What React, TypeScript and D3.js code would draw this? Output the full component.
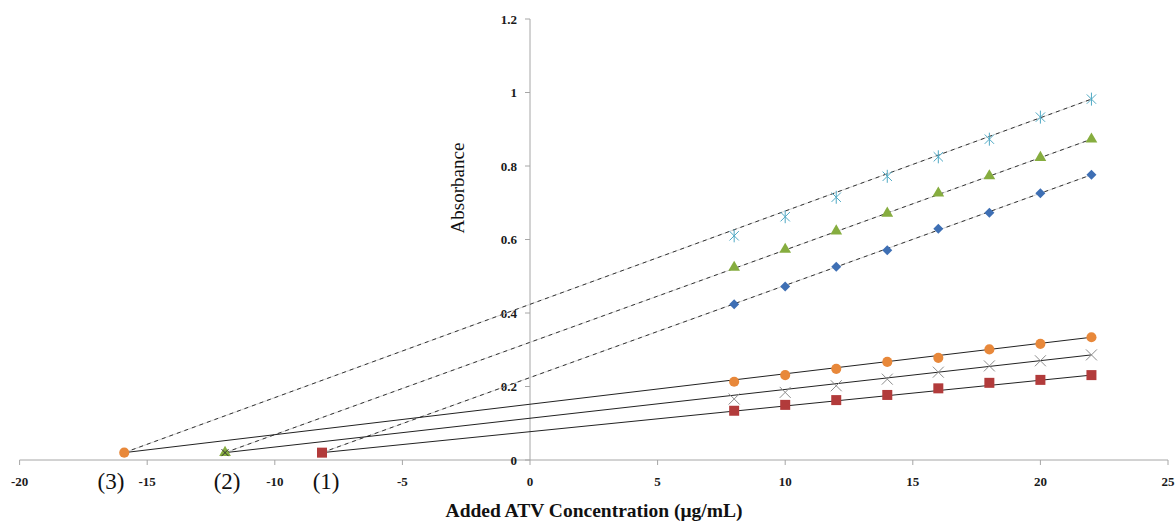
import React, { useRef, useEffect } from 'react';
import { select, scaleLinear, symbol, symbolCircle, symbolSquare, symbolTriangle, path as d3path } from 'd3';

const W = 1176;
const H = 521;

// added concentrations (µg/mL)
const concentrations = [8, 10, 12, 14, 16, 18, 20, 22];

// upper group (dashed fits)
const diamondVals = [0.424, 0.472, 0.526, 0.571, 0.629, 0.673, 0.726, 0.776];
const triangleVals = [0.524, 0.573, 0.623, 0.671, 0.726, 0.773, 0.823, 0.873];
const starVals = [0.61, 0.662, 0.715, 0.772, 0.825, 0.873, 0.933, 0.982];
// lower group (solid fits)
const circleVals = [0.213, 0.231, 0.248, 0.267, 0.278, 0.301, 0.316, 0.334];
const crossVals = [0.166, 0.184, 0.202, 0.22, 0.239, 0.256, 0.27, 0.286];
const squareVals = [0.134, 0.15, 0.163, 0.177, 0.195, 0.21, 0.218, 0.231];

// extrapolated x-intercepts (1), (2), (3)
const intercepts = [-8.15, -11.95, -15.9];
const interceptY = 0.02;
const interceptLabels = ['(1)', '(2)', '(3)'];
const interceptLabelX = [-7.99, -11.87, -16.42];

const xTicks = [-20, -15, -10, -5, 0, 5, 10, 15, 20, 25];
const yTicks = [0, 0.2, 0.4, 0.6, 0.8, 1, 1.2];

const starPath = (r: number) => {
  const p = d3path();
  const d = r * 0.72;
  p.moveTo(-d, -d); p.lineTo(d, d);
  p.moveTo(-d, d); p.lineTo(d, -d);
  p.moveTo(0, -r); p.lineTo(0, r);
  return p.toString();
};
const timesPath = (r: number) => {
  const p = d3path();
  p.moveTo(-r, -r); p.lineTo(r, r);
  p.moveTo(-r, r); p.lineTo(r, -r);
  return p.toString();
};

const App = () => {
  const svgRef = useRef<SVGSVGElement>(null);

  useEffect(() => {
    const svg = select(svgRef.current);
    svg.selectAll('*').remove();

    const x = scaleLinear().domain([-20, 25]).range([19.6, 1168]);
    const y = scaleLinear().domain([0, 1.2]).range([460, 19]);
    const axisColor = '#a6a6a6';
    const serif = '"Liberation Serif", "Times New Roman", serif';

    // axes
    const gAxis = svg.append('g');
    gAxis.append('line')
      .attr('x1', x(-20)).attr('x2', x(25)).attr('y1', y(0)).attr('y2', y(0))
      .attr('stroke', axisColor).attr('stroke-width', 1);
    gAxis.append('line')
      .attr('x1', x(0)).attr('x2', x(0)).attr('y1', y(0)).attr('y2', y(1.2))
      .attr('stroke', axisColor).attr('stroke-width', 1);

    gAxis.selectAll('.xtick').data(xTicks).join('line')
      .attr('class', 'xtick')
      .attr('x1', d => x(d)).attr('x2', d => x(d))
      .attr('y1', y(0)).attr('y2', y(0) + 5)
      .attr('stroke', axisColor);
    gAxis.selectAll('.xlab').data(xTicks).join('text')
      .attr('class', 'xlab')
      .attr('x', d => x(d)).attr('y', 486)
      .attr('text-anchor', 'middle')
      .attr('font-family', serif).attr('font-weight', 'bold').attr('font-size', 13)
      .attr('fill', '#1a1a1a')
      .text(d => d);

    gAxis.selectAll('.ytick').data(yTicks).join('line')
      .attr('class', 'ytick')
      .attr('x1', x(0) - 5).attr('x2', x(0))
      .attr('y1', d => y(d)).attr('y2', d => y(d))
      .attr('stroke', axisColor);
    gAxis.selectAll('.ylab').data(yTicks).join('text')
      .attr('class', 'ylab')
      .attr('x', x(0) - 13).attr('y', d => y(d) + 4.5)
      .attr('text-anchor', 'end')
      .attr('font-family', serif).attr('font-weight', 'bold').attr('font-size', 13)
      .attr('fill', '#1a1a1a')
      .text(d => d);

    // axis titles
    svg.append('text')
      .attr('x', 594).attr('y', 517)
      .attr('text-anchor', 'middle')
      .attr('font-family', serif).attr('font-weight', 'bold').attr('font-size', 19.5)
      .attr('fill', '#111')
      .text('Added ATV Concentration (μg/mL)');
    svg.append('text')
      .attr('transform', `translate(464,188) rotate(-90)`)
      .attr('text-anchor', 'middle')
      .attr('font-family', serif).attr('font-size', 19)
      .attr('fill', '#111')
      .text('Absorbance');

    // intercept labels
    svg.selectAll('.ilab').data(interceptLabels).join('text')
      .attr('class', 'ilab')
      .attr('x', (d, i) => x(interceptLabelX[i])).attr('y', 489)
      .attr('text-anchor', 'middle')
      .attr('font-family', serif).attr('font-size', 23)
      .attr('fill', '#111')
      .text(d => d);

    const last = concentrations[concentrations.length - 1];
    // fitted lines, drawn from the intercept to the last point
    const dashed = [
      { vals: diamondVals, x0: intercepts[0] },
      { vals: triangleVals, x0: intercepts[1] },
      { vals: starVals, x0: intercepts[2] },
    ];
    const solid = [
      { vals: squareVals, x0: intercepts[0] },
      { vals: crossVals, x0: intercepts[1] },
      { vals: circleVals, x0: intercepts[2] },
    ];
    const gLines = svg.append('g');
    dashed.forEach(s => {
      const ln = gLines.append('g');
      ['#c8c8c8', '#333'].forEach((c, k) => {
        ln.append('line')
          .attr('x1', x(s.x0)).attr('y1', y(interceptY))
          .attr('x2', x(last)).attr('y2', y(s.vals[s.vals.length - 1]))
          .attr('stroke', c).attr('stroke-width', k ? 1 : 0.8)
          .attr('stroke-dasharray', k ? '4 4' : null);
      });
    });
    solid.forEach(s => {
      gLines.append('line')
        .attr('x1', x(s.x0)).attr('y1', y(interceptY))
        .attr('x2', x(last)).attr('y2', y(s.vals[s.vals.length - 1]))
        .attr('stroke', '#222').attr('stroke-width', 1);
    });

    // markers
    const gPts = svg.append('g');
    const pts = (vals: number[]) => vals.map((v, i) => ({ cx: concentrations[i], v }));
    const tr = (d: { cx: number; v: number }) => `translate(${x(d.cx)},${y(d.v)})`;

    gPts.selectAll('.diamond').data(pts(diamondVals)).join('path')
      .attr('class', 'diamond')
      .attr('d', symbol(symbolSquare, 50))
      .attr('transform', d => `${tr(d)} rotate(45)`)
      .attr('fill', '#3e6fb4');
    gPts.selectAll('.tri').data(pts(triangleVals)).join('path')
      .attr('class', 'tri')
      .attr('d', symbol(symbolTriangle, 60))
      .attr('transform', tr)
      .attr('fill', '#86ad3f');
    gPts.selectAll('.star').data(pts(starVals)).join('path')
      .attr('class', 'star')
      .attr('d', starPath(6.5))
      .attr('transform', tr)
      .attr('fill', 'none').attr('stroke', '#4fa9c4').attr('stroke-width', 1);
    gPts.selectAll('.circ').data(pts(circleVals)).join('path')
      .attr('class', 'circ')
      .attr('d', symbol(symbolCircle, 80))
      .attr('transform', tr)
      .attr('fill', '#e8883a');
    gPts.selectAll('.cross').data(pts(crossVals)).join('path')
      .attr('class', 'cross')
      .attr('d', timesPath(5.5))
      .attr('transform', tr)
      .attr('fill', 'none').attr('stroke', '#8c8c8c').attr('stroke-width', 1);
    gPts.selectAll('.sq').data(pts(squareVals)).join('path')
      .attr('class', 'sq')
      .attr('d', symbol(symbolSquare, 100))
      .attr('transform', tr)
      .attr('fill', '#b23b3b');

    // intercept markers
    const gInt = svg.append('g');
    gInt.append('path')
      .attr('d', symbol(symbolSquare, 100))
      .attr('transform', `translate(${x(intercepts[0])},${y(interceptY)})`)
      .attr('fill', '#b23b3b');
    gInt.append('path')
      .attr('d', symbol(symbolTriangle, 60))
      .attr('transform', `translate(${x(intercepts[1])},${y(interceptY)})`)
      .attr('fill', '#86ad3f');
    gInt.append('path')
      .attr('d', timesPath(3.5))
      .attr('transform', `translate(${x(intercepts[1])},${y(interceptY)})`)
      .attr('fill', 'none').attr('stroke', '#333').attr('stroke-width', 1);
    gInt.append('path')
      .attr('d', symbol(symbolCircle, 80))
      .attr('transform', `translate(${x(intercepts[2])},${y(interceptY)})`)
      .attr('fill', '#e8883a');
  }, []);

  return (
    <svg
      ref={svgRef}
      width={W}
      height={H}
      style={{ position: 'absolute', left: 0, top: 0, background: '#fff' }}
    />
  );
};

export default App;
